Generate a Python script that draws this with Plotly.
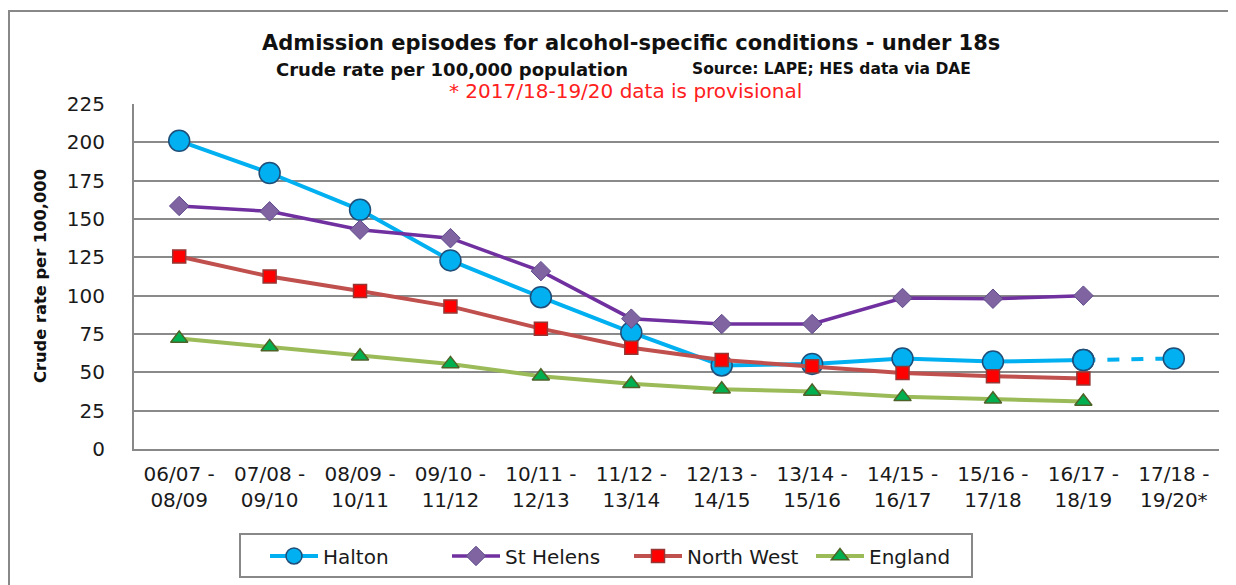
import plotly.graph_objects as go

categories = ["06/07 -<br>08/09", "07/08 -<br>09/10", "08/09 -<br>10/11", "09/10 -<br>11/12",
              "10/11 -<br>12/13", "11/12 -<br>13/14", "12/13 -<br>14/15", "13/14 -<br>15/16",
              "14/15 -<br>16/17", "15/16 -<br>17/18", "16/17 -<br>18/19", "17/18 -<br>19/20*"]
halton = [201, 180, 156, 123, 99, 76, 54.5, 55.5, 59, 57, 58, 59]
st_helens = [158.5, 155, 143, 137.5, 116, 85, 81.5, 81.5, 98.5, 98, 100, None]
north_west = [125.5, 112.5, 103, 93, 78.5, 66, 58, 54, 49.5, 47.5, 46, None]
england = [72, 66.5, 60.5, 55.5, 47.5, 42.5, 39, 37.5, 34, 32.5, 31, None]

FONT = "DejaVu Sans, Verdana, sans-serif"

fig = go.Figure()

fig.add_trace(go.Scatter(x=categories[:11], y=halton[:11], name="Halton", mode="lines+markers",
                         line=dict(color="#00B0F0", width=4),
                         marker=dict(symbol="circle", size=21, color="#00B0F0",
                                     line=dict(color="#1F4E79", width=1.5))))
fig.add_trace(go.Scatter(x=categories[10:], y=halton[10:], name="Halton", mode="lines+markers",
                         showlegend=False,
                         line=dict(color="#00B0F0", width=4, dash="dash"),
                         marker=dict(symbol="circle", size=21, color="#00B0F0",
                                     line=dict(color="#1F4E79", width=1.5))))
fig.add_trace(go.Scatter(x=categories, y=st_helens, name="St Helens", mode="lines+markers",
                         line=dict(color="#7030A0", width=3.5),
                         marker=dict(symbol="diamond", size=15, color="#8064A2",
                                     line=dict(color="#5F4B8B", width=1))))
fig.add_trace(go.Scatter(x=categories, y=north_west, name="North West", mode="lines+markers",
                         line=dict(color="#C0504D", width=4),
                         marker=dict(symbol="square", size=13, color="#FF0000",
                                     line=dict(color="#953735", width=1.5))))
fig.add_trace(go.Scatter(x=categories, y=england, name="England", mode="lines+markers",
                         line=dict(color="#9BBB59", width=4),
                         marker=dict(symbol="triangle-up", size=15, color="#00B050",
                                     line=dict(color="#4F6228", width=1.5))))

fig.update_layout(
    width=1236, height=585,
    margin=dict(l=126, r=25, t=96, b=144),
    plot_bgcolor="white", paper_bgcolor="white",
    font=dict(family=FONT, size=20, color="#1a1a1a"),
    showlegend=True,
    legend=dict(orientation="h", x=(265 - 134) / 1085, xanchor="left", y=-0.31, yanchor="middle",
                borderwidth=0, bgcolor="rgba(0,0,0,0)", font=dict(size=20, color="#1a1a1a"),
                itemwidth=48, entrywidth=119, entrywidthmode="pixels"),
    xaxis=dict(type="category", showgrid=False, showline=True, linecolor="#888", linewidth=2,
               tickfont=dict(size=20), ticks="", range=[-0.5, 11.5], ticklabelstandoff=6),
    yaxis=dict(range=[0, 225], dtick=25, showgrid=True, gridcolor="#8a8a8a", gridwidth=2,
               showline=True, linecolor="#888", linewidth=2, zeroline=False,
               tickfont=dict(size=20), ticks="", ticklabelstandoff=23),
    annotations=[
        dict(text="<b>Admission episodes for alcohol-specific conditions - under 18s</b>",
             xref="paper", yref="paper", x=(631 - 134) / 1085, y=(449 - 43) / 345,
             xanchor="center", yanchor="middle", showarrow=False, font=dict(size=21, color="#111")),
        dict(text="<b>Crude rate per 100,000 population</b>",
             xref="paper", yref="paper", x=(452 - 134) / 1085, y=(449 - 69) / 345,
             xanchor="center", yanchor="middle", showarrow=False, font=dict(size=18, color="#111")),
        dict(text="<b>Source: LAPE; HES data via DAE</b>",
             xref="paper", yref="paper", x=(832 - 134) / 1085, y=(449 - 69) / 345,
             xanchor="center", yanchor="middle", showarrow=False, font=dict(size=15.5, color="#111")),
        dict(text="* 2017/18-19/20 data is provisional",
             xref="paper", yref="paper", x=(625 - 134) / 1085, y=(449 - 91) / 345,
             xanchor="center", yanchor="middle", showarrow=False, font=dict(size=20, color="#FF2020")),
        dict(text="<b>Crude rate per 100,000</b>",
             xref="paper", yref="paper", x=(40 - 134) / 1085, y=(449 - 276) / 345,
             xanchor="center", yanchor="middle", textangle=-90, showarrow=False,
             font=dict(size=16.3, color="#111")),
    ],
    shapes=[
        dict(type="rect", xref="paper", yref="paper",
             x0=(9 - 134) / 1085, x1=(1230 - 134) / 1085,
             y0=(449 - 600) / 345, y1=(449 - 11) / 345,
             line=dict(color="#888", width=2), fillcolor="rgba(0,0,0,0)", layer="below"),
        dict(type="rect", xref="paper", yref="paper",
             x0=(240 - 134) / 1085, x1=(972 - 134) / 1085,
             y0=(449 - 577) / 345, y1=(449 - 534) / 345,
             line=dict(color="#888", width=2), fillcolor="rgba(0,0,0,0)", layer="below"),
    ],
)

fig.write_html("out.html")
